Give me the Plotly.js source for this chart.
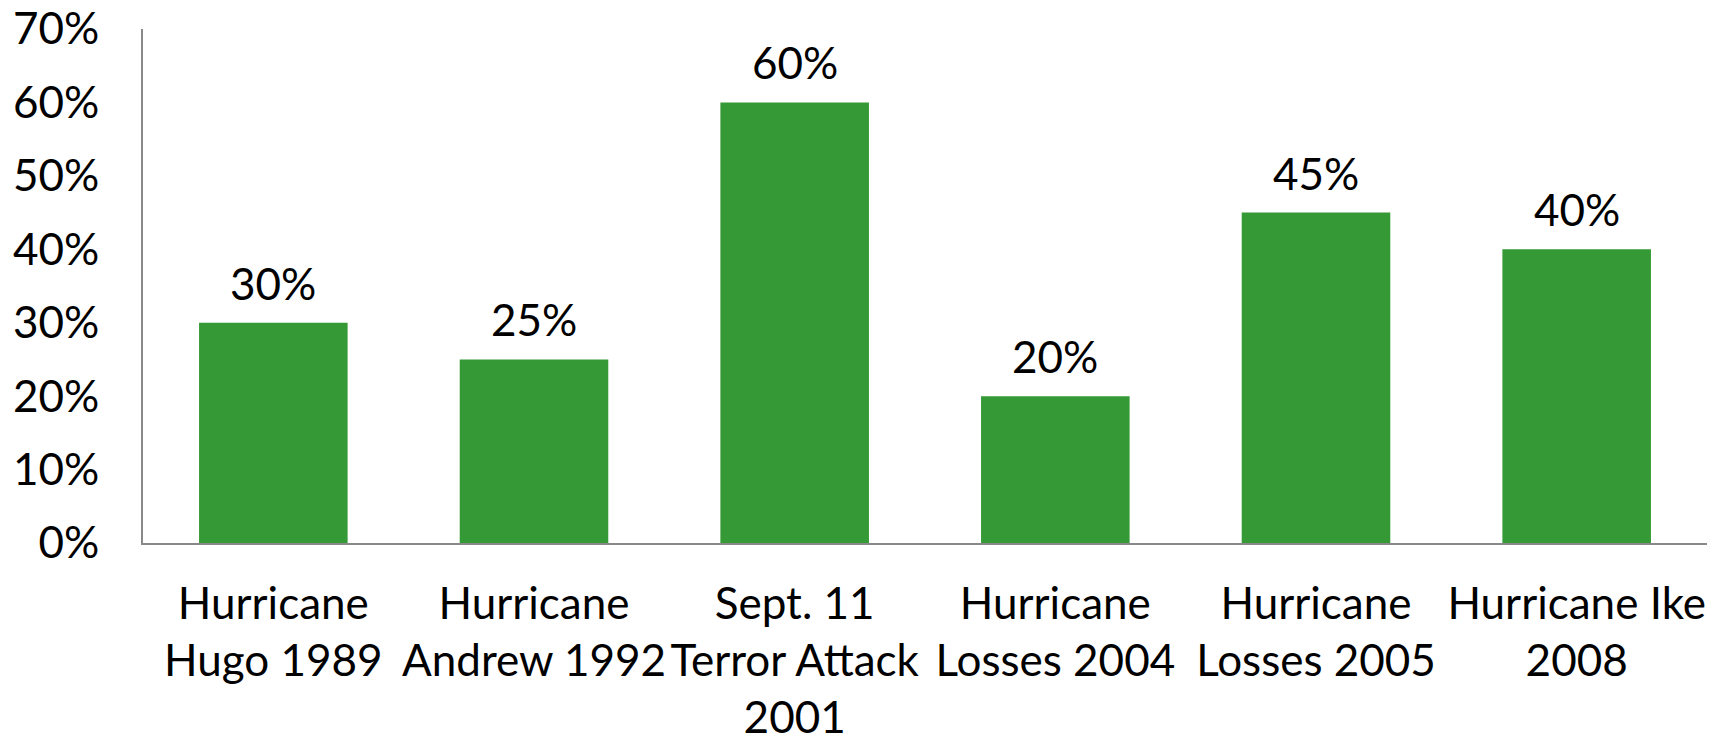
<!DOCTYPE html>
<html>
<head>
<meta charset="utf-8">
<script src="https://cdn.plot.ly/plotly-3.0.1.min.js"></script>
<style>html,body{margin:0;padding:0;background:#fff;}#chart{width:1721px;height:740px;}</style>
</head>
<body>
<div id="chart"></div>
<script>
const categories = [
  "Hurricane<br>Hugo 1989",
  "Hurricane<br>Andrew 1992",
  "Sept. 11<br>Terror Attack<br>2001",
  "Hurricane<br>Losses 2004",
  "Hurricane<br>Losses 2005",
  "Hurricane Ike<br>2008"
];
const values = [0.30, 0.25, 0.60, 0.20, 0.45, 0.40];
const valueLabels = ["30%", "25%", "60%", "20%", "45%", "40%"];
const yTickVals = [0, 0.1, 0.2, 0.3, 0.4, 0.5, 0.6, 0.7];
const yTickText = ["0%", "10%", "20%", "30%", "40%", "50%", "60%", "70%"];

const FONT = "Lato, 'Open Sans', sans-serif";

const trace = {
  type: "bar",
  x: categories,
  y: values,
  marker: {color: "#359a35"},
  hoverinfo: "none"
};

const annotations = categories.map((c, i) => ({
  x: c, y: values[i], text: valueLabels[i],
  xref: "x", yref: "y", showarrow: false,
  yanchor: "bottom", yshift: 12,
  font: {family: FONT, size: 44, color: "#000"}
}));

const layout = {
  width: 1721, height: 740,
  margin: {l: 143, r: 14, t: 29, b: 197},
  paper_bgcolor: "#fff", plot_bgcolor: "#fff",
  showlegend: false,
  bargap: 0.43,
  font: {family: FONT, size: 44, color: "#000"},
  xaxis: {
    showgrid: false, zeroline: false,
    showline: true, linecolor: "#898989", linewidth: 2,
    ticks: "", tickangle: 0, tickfont: {family: FONT, size: 44, color: "#000"},
    ticklabelstandoff: 21,
    fixedrange: true
  },
  yaxis: {
    range: [0, 0.7],
    tickvals: yTickVals, ticktext: yTickText,
    showgrid: false, zeroline: false,
    showline: true, linecolor: "#898989", linewidth: 2,
    ticks: "", tickfont: {family: FONT, size: 44, color: "#000"},
    ticklabelstandoff: 33,
    fixedrange: true
  },
  annotations: annotations
};

Plotly.newPlot("chart", [trace], layout, {displayModeBar: false, staticPlot: true});
</script>
</body>
</html>
